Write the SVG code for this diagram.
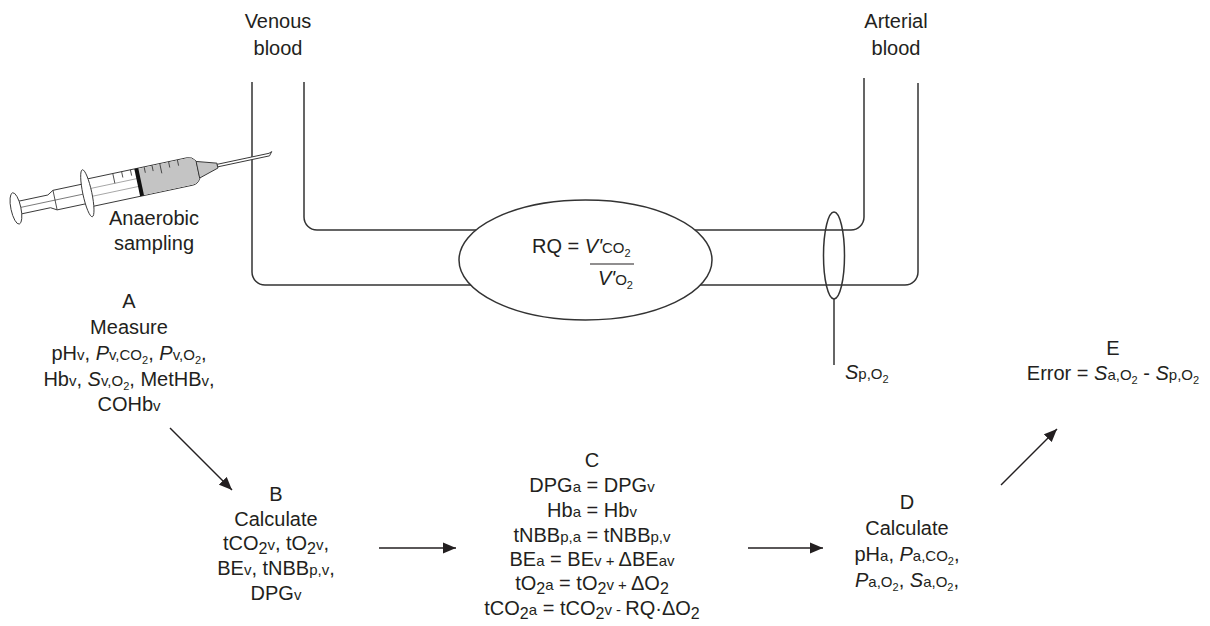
<svg xmlns="http://www.w3.org/2000/svg" width="1210" height="626" viewBox="0 0 1210 626">
  <defs>
    <style>
      .t { font-family: "Liberation Sans", Arial, Helvetica, sans-serif; font-size: 20px; fill: #231f20; text-anchor: middle; }
      .l { text-anchor: start; }
      .s { font-size: 15px; }
      .ss { font-size: 11px; }
      .sb { font-size: 16px; }
      .i { font-style: italic; }
      .vessel { fill: none; stroke: #333; stroke-width: 1.5; }
      .conn { fill: none; stroke: #231f20; stroke-width: 1.4; }
      .syr { stroke: #333; stroke-width: 0.9; stroke-linejoin: round; }
    </style>
    <marker id="arrow" markerUnits="userSpaceOnUse" markerWidth="14" markerHeight="12" refX="13" refY="6" orient="auto">
      <path d="M0,0.5 L13,6 L0,11.5 Z" fill="#231f20"/>
    </marker>
  </defs>

  <rect width="1210" height="626" fill="#fff"/>

  <!-- vessels: venous and arterial limbs joined through the tissue ellipse -->
  <g id="vessels">
    <path class="vessel" d="M252,82 V272 A13,13 0 0 0 265,285 H471"/>
    <path class="vessel" d="M304,82 V217 A13,13 0 0 0 317,230 H476"/>
    <path class="vessel" d="M864,78 V217 A13,13 0 0 1 851,230 H695"/>
    <path class="vessel" d="M918,83 V272 A13,13 0 0 1 905,285 H700"/>
  </g>

  <g id="tissue">
    <ellipse class="vessel" cx="585.5" cy="260" rx="126.5" ry="60"/>
    <text class="t l" x="532" y="253">RQ = <tspan class="i">V'</tspan><tspan class="s">CO</tspan><tspan class="ss" dy="4">2</tspan></text>
    <line x1="590" y1="264" x2="634" y2="264" stroke="#231f20" stroke-width="1.2"/>
    <text class="t l" x="598" y="285"><tspan class="i">V'</tspan><tspan class="s">O</tspan><tspan class="ss" dy="4">2</tspan></text>
  </g>

  <g id="pulse-probe">
    <ellipse class="vessel" cx="834" cy="255.5" rx="10.5" ry="43.5"/>
    <line class="vessel" x1="834" y1="299" x2="834" y2="365"/>
    <text class="t l" x="845" y="379"><tspan class="i">S</tspan><tspan class="s">p,O</tspan><tspan class="ss" dy="4">2</tspan></text>
  </g>

  <g id="labels-top">
    <text class="t" x="278" y="28">Venous</text>
    <text class="t" x="278" y="55">blood</text>
    <text class="t" x="896" y="28">Arterial</text>
    <text class="t" x="896" y="55">blood</text>
  </g>

  <!-- syringe, drawn along its own axis and tilted -->
  <g id="syringe" transform="translate(192,171) rotate(-12)">
    <!-- plunger rod and thumb rest -->
    <path class="syr" fill="#fff" d="M-178,-6.5 H-146 L-140,-10 H-109 V10 H-140 L-146,6.5 H-178 Z"/>
    <line x1="-176" y1="0" x2="-110" y2="0" stroke="#666" stroke-width="0.8"/>
    <line x1="-140" y1="-10" x2="-140" y2="10" stroke="#333" stroke-width="0.8"/>
    <ellipse class="syr" fill="#fff" cx="-180" cy="0" rx="5" ry="16"/>
    <!-- barrel -->
    <path class="syr" fill="#fff" d="M-109,-14 H-2 Q3,-14 6,-9 V9 Q3,14 -2,14 H-109 Z"/>
    <path fill="#c4c4c4" stroke="none" d="M-53,-13.4 H-2 Q2.5,-13.4 5.4,-9 V9 Q2.5,13.4 -2,13.4 H-53 Z"/>
    <line x1="-108" y1="-4" x2="-55" y2="-4" stroke="#999" stroke-width="0.8"/>
    <line x1="-108" y1="4" x2="-55" y2="4" stroke="#999" stroke-width="0.8"/>
    <rect x="-56" y="-14" width="4" height="28" fill="#111"/>
    <!-- graduations -->
    <g stroke="#333" stroke-width="0.8">
      <line x1="-78" y1="-14" x2="-78" y2="-4"/>
      <line x1="-69" y1="-14" x2="-69" y2="-8"/>
      <line x1="-60" y1="-14" x2="-60" y2="-8"/>
      <line x1="-46" y1="-14" x2="-46" y2="-8"/>
      <line x1="-38" y1="-14" x2="-38" y2="-8"/>
      <line x1="-30" y1="-14" x2="-30" y2="-4"/>
      <line x1="-21" y1="-14" x2="-21" y2="-8"/>
      <line x1="-12" y1="-14" x2="-12" y2="-8"/>
    </g>
    <!-- finger flange -->
    <ellipse class="syr" fill="#fff" cx="-107" cy="0" rx="4.5" ry="24"/>
    <!-- hub and needle -->
    <path class="syr" fill="#c4c4c4" d="M6,-8.5 L26,-2.5 V2.5 L6,8.5 Z"/>
    <path class="syr" fill="#fff" stroke-width="0.7" d="M26,-1.3 H79 L82,-2.4 L79,1.3 H26 Z"/>
  </g>
  <text class="t" x="154" y="225">Anaerobic</text>
  <text class="t" x="154" y="250">sampling</text>

  <g id="node-A">
    <text class="t" x="129" y="308">A</text>
    <text class="t" x="129" y="334">Measure</text>
    <text class="t" x="129" y="360">pH<tspan class="s">v</tspan>, <tspan class="i">P</tspan><tspan class="s">v,CO</tspan><tspan class="ss" dy="4">2</tspan><tspan dy="-4">, </tspan><tspan class="i">P</tspan><tspan class="s">v,O</tspan><tspan class="ss" dy="4">2</tspan><tspan dy="-4">,</tspan></text>
    <text class="t" x="129" y="386">Hb<tspan class="s">v</tspan>, <tspan class="i">S</tspan><tspan class="s">v,O</tspan><tspan class="ss" dy="4">2</tspan><tspan dy="-4">, MetHB</tspan><tspan class="s">v</tspan>,</text>
    <text class="t" x="129" y="411">COHb<tspan class="s">v</tspan></text>
  </g>

  <g id="node-B">
    <text class="t" x="276" y="501">B</text>
    <text class="t" x="276" y="526">Calculate</text>
    <text class="t" x="276" y="550">tCO<tspan class="sb" dy="4">2</tspan><tspan class="s" dy="-4">v</tspan>, tO<tspan class="sb" dy="4">2</tspan><tspan class="s" dy="-4">v</tspan>,</text>
    <text class="t" x="276" y="575">BE<tspan class="s">v</tspan>, tNBB<tspan class="s">p,v</tspan>,</text>
    <text class="t" x="276" y="600">DPG<tspan class="s">v</tspan></text>
  </g>

  <g id="node-C">
    <text class="t" x="592" y="467">C</text>
    <text class="t" x="592" y="492">DPG<tspan class="s">a</tspan> = DPG<tspan class="s">v</tspan></text>
    <text class="t" x="592" y="517">Hb<tspan class="s">a</tspan> = Hb<tspan class="s">v</tspan></text>
    <text class="t" x="592" y="541.5">tNBB<tspan class="s">p,a</tspan> = tNBB<tspan class="s">p,v</tspan></text>
    <text class="t" x="592" y="566">BE<tspan class="s">a</tspan> = BE<tspan class="s">v + </tspan>ΔBE<tspan class="s">av</tspan></text>
    <text class="t" x="592" y="590">tO<tspan class="sb" dy="4">2</tspan><tspan class="s" dy="-4">a</tspan> = tO<tspan class="sb" dy="4">2</tspan><tspan class="s" dy="-4">v + </tspan>ΔO<tspan class="sb" dy="4">2</tspan></text>
    <text class="t" x="592" y="615">tCO<tspan class="sb" dy="4">2</tspan><tspan class="s" dy="-4">a</tspan> = tCO<tspan class="sb" dy="4">2</tspan><tspan class="s" dy="-4">v - </tspan>RQ·ΔO<tspan class="sb" dy="4">2</tspan></text>
  </g>

  <g id="node-D">
    <text class="t" x="907" y="509">D</text>
    <text class="t" x="907" y="535">Calculate</text>
    <text class="t" x="907" y="561">pH<tspan class="s">a</tspan>, <tspan class="i">P</tspan><tspan class="s">a,CO</tspan><tspan class="ss" dy="4">2</tspan><tspan dy="-4">,</tspan></text>
    <text class="t" x="907" y="587"><tspan class="i">P</tspan><tspan class="s">a,O</tspan><tspan class="ss" dy="4">2</tspan><tspan dy="-4">, </tspan><tspan class="i">S</tspan><tspan class="s">a,O</tspan><tspan class="ss" dy="4">2</tspan><tspan dy="-4">,</tspan></text>
  </g>

  <g id="node-E">
    <text class="t" x="1113" y="355">E</text>
    <text class="t" x="1113" y="380">Error = <tspan class="i">S</tspan><tspan class="s">a,O</tspan><tspan class="ss" dy="4">2</tspan><tspan dy="-4"> - </tspan><tspan class="i">S</tspan><tspan class="s">p,O</tspan><tspan class="ss" dy="4">2</tspan></text>
  </g>

  <g id="connectors">
    <line class="conn" x1="170" y1="428" x2="232" y2="490" marker-end="url(#arrow)"/>
    <line class="conn" x1="379" y1="548" x2="456" y2="548" marker-end="url(#arrow)"/>
    <line class="conn" x1="748" y1="548" x2="823" y2="548" marker-end="url(#arrow)"/>
    <line class="conn" x1="1001" y1="485" x2="1057" y2="429" marker-end="url(#arrow)"/>
  </g>
</svg>
